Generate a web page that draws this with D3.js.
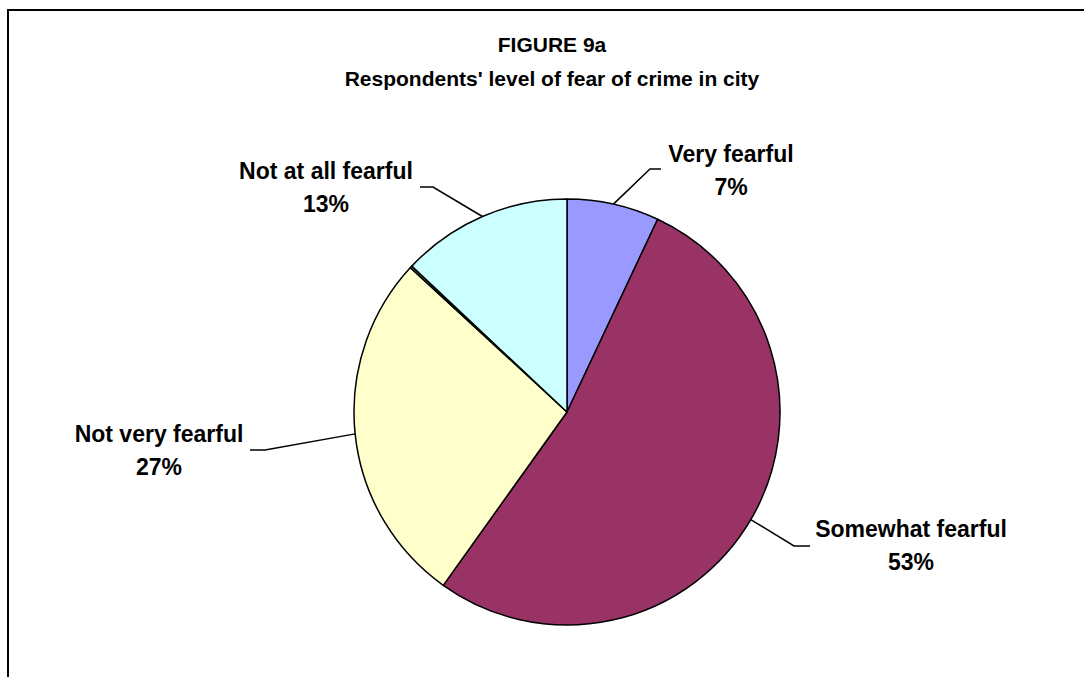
<!DOCTYPE html>
<html>
<head>
<meta charset="utf-8">
<script src="https://cdn.jsdelivr.net/npm/d3@7"></script>
<style>
  html, body { margin: 0; padding: 0; background: #fff; }
  svg { display: block; }
  text { font-family: "Liberation Sans", Arial, sans-serif; font-weight: bold; fill: #000; }
</style>
</head>
<body>
<svg id="chart" width="1084" height="677"></svg>
<script>
// Survey answers, in drawing order clockwise from 12 o'clock
const categories = ["Very fearful", "Somewhat fearful", "Not very fearful", "No answer", "Not at all fearful"];
const shares = [7.0, 52.9, 27.0, 0.15, 13.0];
const shownLabels = [true, true, true, false, true];
const titleLines = ["FIGURE 9a", "Respondents' level of fear of crime in city"];

const colors = ["#9999FF", "#993366", "#FFFFCC", "#FFFFFF", "#CCFFFF"];

// Label placement: text centre and leader-line elbow for each labelled slice
const labelLayout = {
  "Very fearful":       { x: 731, y: 162, elbow: [[661, 169], [650, 169]] },
  "Somewhat fearful":   { x: 911, y: 537, elbow: [[810, 546], [794, 546]] },
  "Not very fearful":   { x: 159, y: 442, elbow: [[250, 450], [265, 450]] },
  "Not at all fearful": { x: 326, y: 179, elbow: [[420, 187], [433, 187]] }
};

const svg = d3.select("#chart");

// Chart frame
svg.append("rect")
  .attr("x", 8).attr("y", 10)
  .attr("width", 1100).attr("height", 700)
  .attr("fill", "none").attr("stroke", "#000").attr("stroke-width", 2);

// Title
svg.append("g").selectAll("text")
  .data(titleLines)
  .join("text")
  .attr("x", 552)
  .attr("y", (d, i) => 52 + i * 34)
  .attr("text-anchor", "middle")
  .attr("font-size", 21)
  .text(d => d);

const cx = 567, cy = 412, r = 213;
const data = categories.map((c, i) => ({ name: c, value: shares[i], color: colors[i], labelled: shownLabels[i] }));

const pie = d3.pie().sort(null).value(d => d.value);
const arcs = pie(data);
const arc = d3.arc().innerRadius(0).outerRadius(r);

const g = svg.append("g").attr("transform", `translate(${cx},${cy})`);

g.selectAll("path")
  .data(arcs)
  .join("path")
  .attr("d", arc)
  .attr("fill", d => d.data.color)
  .attr("stroke", "#000")
  .attr("stroke-width", 1.5)
  .attr("stroke-linejoin", "round");

// Leader lines and labels
const labelled = arcs.filter(d => d.data.labelled);
labelled.forEach(d => {
  const L = labelLayout[d.data.name];
  const mid = (d.startAngle + d.endAngle) / 2;
  const edge = [cx + r * Math.sin(mid), cy - r * Math.cos(mid)];
  const pts = [L.elbow[0], L.elbow[1], edge];
  svg.append("path")
    .attr("d", d3.line()(pts))
    .attr("fill", "none")
    .attr("stroke", "#000")
    .attr("stroke-width", 1.5);
  const t = svg.append("text")
    .attr("text-anchor", "middle")
    .attr("font-size", 23);
  t.append("tspan").attr("x", L.x).attr("y", L.y).text(d.data.name);
  t.append("tspan").attr("x", L.x).attr("y", L.y + 33).text(d3.format(".0f")(d.data.value) + "%");
});
</script>
</body>
</html>
